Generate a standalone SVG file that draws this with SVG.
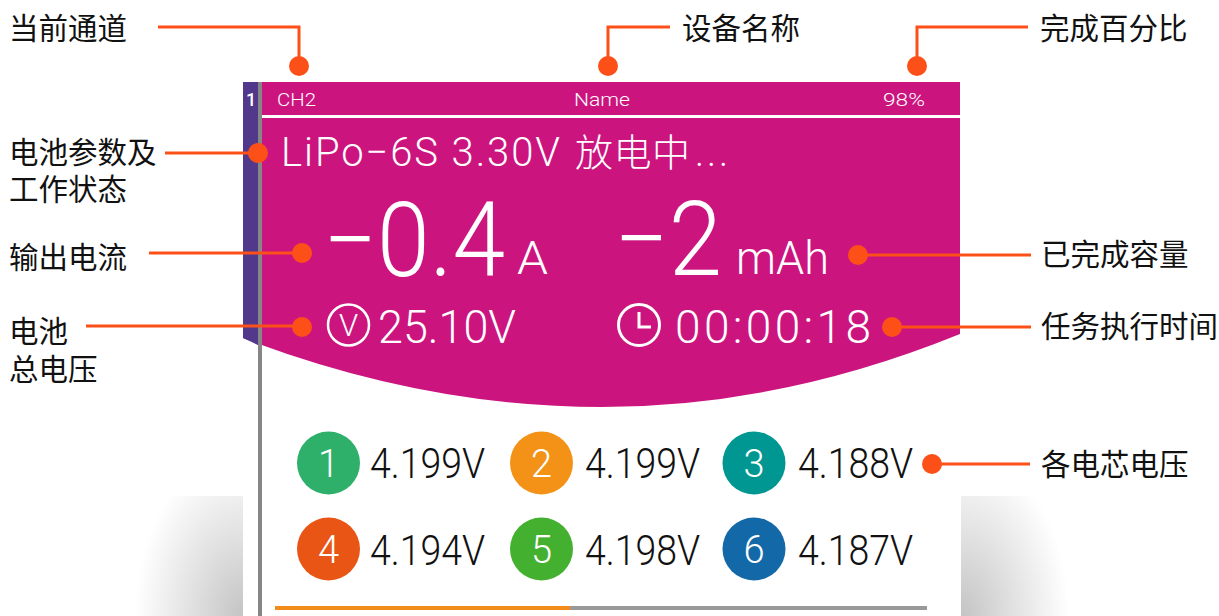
<svg xmlns="http://www.w3.org/2000/svg" width="1219" height="616" viewBox="0 0 1219 616">
<style>
text{font-family:"Noto Sans CJK SC","Noto Sans",sans-serif}
.lat{font-family:Roboto,"Noto Sans CJK SC",sans-serif;font-weight:300}
.lab{font-size:29.500px;fill:#111;font-weight:400}
.w{fill:#fff}
.k{fill:#111}
.ln{fill:none;stroke:#fd5018;stroke-width:3}
.d{fill:#fd5018}
.b{font-size:38px;fill:#fff;text-anchor:middle}
</style>
<defs>
<radialGradient id="sl" gradientUnits="userSpaceOnUse" cx="0" cy="0" r="1" gradientTransform="translate(243 616) scale(108 165)"><stop offset="0" stop-color="#c4c4c4"/><stop offset="0.5" stop-color="#e2e2e2"/><stop offset="1" stop-color="#fff"/></radialGradient>
<radialGradient id="sr" gradientUnits="userSpaceOnUse" cx="0" cy="0" r="1" gradientTransform="translate(961 616) scale(108 165)"><stop offset="0" stop-color="#c4c4c4"/><stop offset="0.5" stop-color="#e2e2e2"/><stop offset="1" stop-color="#fff"/></radialGradient>
</defs>
<g id="screen">
<rect x="130" y="496" width="113" height="120" fill="url(#sl)"/>
<rect x="961" y="496" width="113" height="120" fill="url(#sr)"/>
<path d="M243 82H960V334Q780 407 602 407Q424 407 243 338Z" fill="#cc147f"/>
<path d="M243 82H260V346L243 338Z" fill="#51388a"/>
<rect x="261" y="115" width="699" height="3" fill="#fff"/>
<rect x="258" y="82" width="4" height="534" fill="#868686"/>
<rect x="275" y="606" width="295" height="4" fill="#f28c19"/>
<rect x="570" y="606" width="357" height="4" fill="#999"/>
<text x="251" y="106" class="lat w" font-size="18" text-anchor="middle" style="font-weight:500">1</text>
<text x="277" y="106" class="lat w" font-size="18" textLength="39" lengthAdjust="spacingAndGlyphs">CH2</text>
<text x="574" y="106" class="lat w" font-size="18" textLength="56" lengthAdjust="spacingAndGlyphs">Name</text>
<text x="883" y="106" class="lat w" font-size="18" textLength="42" lengthAdjust="spacingAndGlyphs">98%</text>
<text x="281" y="166" class="lat w" font-size="40" letter-spacing="1.900">LiPo−6S 3.30V <tspan x="575 613.500 652 695 707 719" font-size="38">放电中...</tspan></text>
<text x="323" y="276" class="lat w" font-size="104" textLength="182" lengthAdjust="spacingAndGlyphs">−0.4</text>
<text x="517" y="274" class="lat w" font-size="46" textLength="31" lengthAdjust="spacingAndGlyphs">A</text>
<text x="614" y="275" class="lat w" font-size="104" textLength="108" lengthAdjust="spacingAndGlyphs">−2</text>
<text x="736" y="274" class="lat w" font-size="46" textLength="93" lengthAdjust="spacingAndGlyphs">mAh</text>
<circle cx="348.500" cy="325" r="20.500" fill="none" stroke="#fff" stroke-width="2.500"/>
<text x="348.500" y="336" class="lat w" font-size="31" text-anchor="middle">V</text>
<text x="378" y="343" class="lat w" font-size="46" textLength="138" lengthAdjust="spacingAndGlyphs">25.10V</text>
<circle cx="639" cy="325" r="20.500" fill="none" stroke="#fff" stroke-width="3"/>
<path d="M639 312V327H651" fill="none" stroke="#fff" stroke-width="3"/>
<text x="675" y="343" class="lat w" font-size="46" textLength="196">00:00:18</text>
</g>
<g id="cell1"><circle cx="328.500" cy="463" r="31.500" fill="#2eb06b"/><text x="328.500" y="477" class="b lat">1</text><text x="370" y="478" class="lat k" font-size="42" textLength="115" lengthAdjust="spacingAndGlyphs">4.199V</text></g>
<g id="cell2"><circle cx="541.500" cy="463" r="31.500" fill="#f39216"/><text x="541.500" y="477" class="b lat">2</text><text x="585" y="478" class="lat k" font-size="42" textLength="115" lengthAdjust="spacingAndGlyphs">4.199V</text></g>
<g id="cell3"><circle cx="754" cy="463" r="31.500" fill="#009792"/><text x="754" y="477" class="b lat">3</text><text x="798" y="478" class="lat k" font-size="42" textLength="115" lengthAdjust="spacingAndGlyphs">4.188V</text></g>
<g id="cell4"><circle cx="328.500" cy="549" r="31.500" fill="#e95514"/><text x="328.500" y="563" class="b lat">4</text><text x="370" y="565" class="lat k" font-size="42" textLength="115" lengthAdjust="spacingAndGlyphs">4.194V</text></g>
<g id="cell5"><circle cx="541.500" cy="549" r="31.500" fill="#43b02f"/><text x="541.500" y="563" class="b lat">5</text><text x="585" y="565" class="lat k" font-size="42" textLength="115" lengthAdjust="spacingAndGlyphs">4.198V</text></g>
<g id="cell6"><circle cx="754" cy="549" r="31.500" fill="#1368a8"/><text x="754" y="563" class="b lat">6</text><text x="798" y="565" class="lat k" font-size="42" textLength="115" lengthAdjust="spacingAndGlyphs">4.187V</text></g>
<g id="connectors">
<path class="ln" d="M158 27H299V66"/>
<path class="ln" d="M670 27H608V66"/>
<path class="ln" d="M1028 27H917V66"/>
<path class="ln" d="M165 153H258"/>
<path class="ln" d="M149 253H302"/>
<path class="ln" d="M86 326H302"/>
<path class="ln" d="M1031 255H858"/>
<path class="ln" d="M1031 327H892"/>
<path class="ln" d="M1030 464H932"/>
</g>
<g id="dots">
<circle class="d" cx="299" cy="66" r="10"/><circle class="d" cx="608" cy="66" r="10"/><circle class="d" cx="917" cy="66" r="10"/>
<circle class="d" cx="258" cy="153" r="10"/><circle class="d" cx="302" cy="253" r="10"/><circle class="d" cx="302" cy="327" r="10"/>
<circle class="d" cx="858" cy="255" r="10"/><circle class="d" cx="892" cy="327" r="10"/><circle class="d" cx="932" cy="464" r="10"/>
</g>
<g id="labels">
<text x="9" y="39" class="lab">当前通道</text>
<text x="682" y="39" class="lab">设备名称</text>
<text x="1040" y="39" class="lab">完成百分比</text>
<text x="9" y="163" class="lab">电池参数及</text>
<text x="9" y="200" class="lab">工作状态</text>
<text x="9" y="268" class="lab">输出电流</text>
<text x="9" y="342" class="lab">电池</text>
<text x="9" y="380" class="lab">总电压</text>
<text x="1041" y="265" class="lab">已完成容量</text>
<text x="1041" y="337" class="lab">任务执行时间</text>
<text x="1041" y="475" class="lab">各电芯电压</text>
</g>
</svg>
